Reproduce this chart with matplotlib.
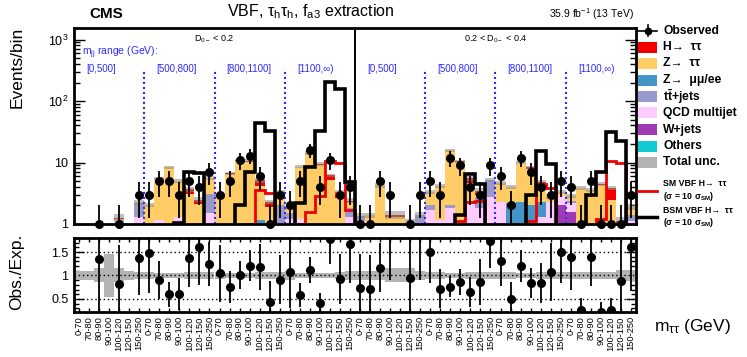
import numpy as np
import matplotlib
matplotlib.use('Agg')
import matplotlib.pyplot as plt
from matplotlib.patches import Rectangle
from matplotlib.lines import Line2D
from matplotlib.transforms import blended_transform_factory
from matplotlib.ticker import FixedLocator, FixedFormatter, MultipleLocator, NullFormatter, LogLocator

plt.rcParams['font.family'] = ['Liberation Sans', 'DejaVu Sans']
plt.rcParams['mathtext.fontset'] = 'custom'
plt.rcParams['mathtext.rm'] = 'Liberation Sans'
plt.rcParams['mathtext.it'] = 'Liberation Sans:italic'
plt.rcParams['mathtext.bf'] = 'Liberation Sans:bold'
plt.rcParams['mathtext.default'] = 'regular'

# ---------------- data ----------------
mtt_bins = ["0-70", "70-80", "80-90", "90-100", "100-120", "120-150", "150-250"]
mjj_ranges = ["[0,500]", "[500,800]", "[800,1100]", "[1100,\u221e)"]
d0_labels = ["D$_{0-}$ < 0.2", "0.2 < D$_{0-}$ < 0.4"]
tick_labels = mtt_bins * 8

observed = [0, 0, 1, 0, 1, 0, 3, 3, 5, 5, 3, 5, 4, 7,
            3, 5, 11, 13, 6, 1, 3, 2, 5, 16, 4, 11, 3, 4,
            1, 1, 5, 3, 0, 1, 3, 5, 3, 12, 9, 4, 3, 9,
            6, 2, 12, 7, 4, 3, 5, 4, 1, 5, 1, 1, 1, 3]

nan = float('nan')
ratio = [nan, nan, 1.35, nan, 0.82, nan, 1.37, 1.48, 0.91, 0.60, 0.60, 1.37, 1.61, 1.24,
         1.05, 0.75, 1.01, 1.21, 1.18, 0.44, 0.91, 1.07, 0.58, 1.12, 0.42, 1.78, 0.92, 1.67,
         0.73, 0.72, 1.17, 2.15, nan, 0.95, 2.15, 1.50, 0.72, 0.76, 0.86, 0.64, 0.86, 1.74,
         1.31, 0.50, 1.20, 0.84, 0.84, 1.07, 1.50, 1.40, 0.26, 1.40, 0.22, 0.26, 0.88, 1.60]

others = [0.02] * 44 + [0.05, 0.05] + [0.02] * 10
wjets = [0] * 48 + [1.98, 1.56] + [0] * 6
qcd = [0.10, 0.10, 0.20, 0.20, 1.08, 0.30, 1.28, 0.28, 1.13, 0.48, 1.28, 0.28, 0.98, 1.48,
       0.28, 0.28, 0.38, 0.28, 0.10, 0.28, 1.03, 1.18, 1.18, 0.28, 0.28, 0.28, 0.28, 1.28,
       1.08, 1.08, 0.28, 0.28, 0.28, 0.28, 0.58, 1.67, 1.13, 1.78, 0.98, 2.28, 1.78, 2.76,
       2.28, 0.28, 0.00, 0.00, 1.28, 2.28, 0.85, 0.60, 0.28, 0.28, 0.28, 0.18, 0.08, 1.08]
ttbar = [0, 0, 0.10, 0, 0, 0, 0.90, 0, 0, 0, 0, 0.20, 0.05, 1.60,
         0.20, 0, 0, 0, 0, 0, 0.95, 0.30, 0, 0, 0, 0, 0, 0.50,
         0.27, 0, 0, 0, 0, 0.75, 0.80, 0.35, 0, 0.20, 0, 0, 0.80, 2.40,
         0, 0, 0, 0, 0, 0, 0, 0.20, 0.20, 0, 0, 0, 0, 0.30]
zll = [0] * 18 + [1.05] + [0] * 20 + [0.10] + [0] * 3 + [1.90, 2.25, 1.95, 1.00] + [0] * 9
ztt = [0.20, 0.20, 0.40, 0.30, 0.10, 0.30, 0.05, 1.70, 4.35, 7.80, 3.65, 2.55, 1.10, 2.50,
       2.40, 6.30, 10.3, 10.0, 3.05, 1.60, 1.30, 0.37, 7.30, 13.8, 8.80, 4.90, 2.30, 0.50,
       0.00, 0.29, 4.00, 1.00, 1.00, 0.00, 0.00, 1.29, 3.05, 13.8, 9.30, 2.20, 0.40, 0.00,
       2.30, 1.80, 7.60, 5.80, 1.60, 0.50, 0.48, 0.48, 3.35, 3.27, 4.00, 2.25, 0.80, 0.50]
htt = [0, 0, 0.04, 0, 0.05, 0, 0, 0.02, 0.05, 0.05, 0.05, 0.60, 0.35, 0.05,
       0.02, 0.10, 0.20, 0.40, 0.90, 0.37, 0.02, 0, 0.10, 0.20, 0.40, 1.00, 0.70, 0.10,
       0, 0, 0, 0.10, 0.10, 0, 0, 0, 0, 0, 0.20, 0.90, 0.50, 0,
       0, 0, 0.10, 0.50, 0.90, 0, 0, 0, 0, 0, 0.20, 1.40, 0.24, 0]
total_unc = [0.10, 0.10, 0.15, 0.45, 0.15, 0.10, 0.08, 0.08, 0.06, 0.06, 0.06, 0.08, 0.08, 0.08,
             0.08, 0.06, 0.06, 0.06, 0.08, 0.08, 0.08, 0.10, 0.06, 0.06, 0.06, 0.06, 0.08, 0.10,
             0.10, 0.10, 0.10, 0.15, 0.15, 0.15, 0.10, 0.08, 0.08, 0.06, 0.06, 0.08, 0.08, 0.08,
             0.08, 0.08, 0.06, 0.06, 0.08, 0.08, 0.08, 0.08, 0.08, 0.08, 0.08, 0.08, 0.12, 0.12]
sm_vbf = [0.3, 0.3, 0.3, 0.3, 0.3, 0.3, 0.3, 0.3, 0.3, 0.3, 0.9, 0.9, 0.9, 0.3,
          0.3, 0.3, 0.5, 1.0, 3.57, 3.2, 0.3, 0.3, 1.0, 1.55, 2.9, 10.7, 9.9, 1.7,
          0.3, 0.3, 0.3, 0.3, 0.3, 0.3, 0.3, 0.3, 0.3, 0.5, 1.1, 2.3, 2.4, 0.3,
          0.3, 0.3, 0.5, 1.1, 4.5, 3.8, 0.3, 0.3, 0.3, 0.9, 1.2, 10.7, 9.9, 0.3]
bsm_vbf = [0.3, 0.3, 0.3, 0.3, 0.3, 0.3, 0.3, 0.3, 0.3, 0.3, 1.05, 7.0, 6.8, 0.3,
           0.3, 0.3, 2.0, 7.1, 43.5, 33.0, 0.3, 0.3, 2.17, 8.5, 32.0, 206.0, 155.0, 4.8,
           0.3, 0.3, 0.3, 0.3, 0.3, 0.3, 0.3, 0.3, 0.3, 0.3, 1.4, 6.4, 4.4, 0.3,
           0.3, 0.3, 0.3, 3.0, 15.3, 9.6, 0.3, 0.3, 0.3, 3.0, 7.0, 31.8, 22.8, 0.3]

components = [
    ("Others", others, '#12cad3'),
    ("W+jets", wjets, '#a03ab4'),
    ("QCD multijet", qcd, '#ffccff'),
    ("t$\\bar{t}$+jets", ttbar, '#9999cc'),
    ("Z\u2192  \u03bc\u03bc/ee", zll, '#4496c8'),
    ("Z\u2192  \u03c4\u03c4", ztt, '#ffcc66'),
    ("H\u2192  \u03c4\u03c4", htt, '#f20000'),
]

# ---------------- figure ----------------
W, H = 747, 357
fig = plt.figure(figsize=(W / 100, H / 100), dpi=100)


def fx(x):
    return x / W


def fy(y):
    return 1 - y / H


ax = fig.add_axes([fx(74), fy(224), fx(562), 196 / H])
ax2 = fig.add_axes([fx(74), fy(312), fx(562), 74 / H])

nb = len(observed)
edges = np.arange(nb + 1)
centers = edges[:-1] + 0.5
obs = np.array(observed, dtype=float)

# stack
cum = np.zeros(nb)
for name, vals, col in components:
    v = np.array(vals, dtype=float)
    ax.bar(edges[:-1], v, bottom=cum, width=1.0, align='edge', color=col,
           edgecolor='none', linewidth=0, zorder=2)
    cum = cum + v
total = cum
unc = np.array(total_unc)
ax.bar(edges[:-1], 2 * unc * total, bottom=total * (1 - unc), width=1.0, align='edge',
       color='#8c8c8c', alpha=0.55, edgecolor='none', zorder=3)

# signal lines
ax.stairs(sm_vbf, edges, baseline=None, color='#f00000', lw=2.0, zorder=4)
ax.stairs(bsm_vbf, edges, baseline=None, color='black', lw=2.6, zorder=5)

# observed
m = obs > 0
err = np.sqrt(obs)
lo = np.maximum(obs - err, 0.9)
hi = obs + err
ax.vlines(centers[m], lo[m], hi[m], color='black', lw=1.3, zorder=6)
ax.plot(centers[m], obs[m], 'o', color='black', ms=5.5, zorder=7, clip_on=False)

ax.set_yscale('log')
ax.set_xlim(0, nb)
ax.set_ylim(1, 1540)

# category separators
blue = '#2b2bff'
for b in [7, 14, 21, 35, 42, 49]:
    ax.vlines(b, 1, 320, colors=blue, linestyles=(0, (1, 1.4)), lw=1.5, zorder=8)
ax.axvline(28, color='black', lw=1.4, zorder=8)

bt = blended_transform_factory(ax.transData, ax.transAxes)
for half in range(2):
    for g, lab in enumerate(mjj_ranges):
        ax.text(half * 28 + g * 7 + 1.2, 0.79, lab, transform=bt, color=blue,
                fontsize=7, ha='left', va='center')
    ax.text(half * 28 + 14, 0.945, d0_labels[half], transform=bt, fontsize=6.5,
            ha='center', va='center')
ax.text(0.8, 0.872, "m$_{jj}$ range (GeV):", transform=bt, color=blue, fontsize=7.5,
        ha='left', va='center')

ax.yaxis.set_major_locator(FixedLocator([1, 10, 100, 1000]))
ax.yaxis.set_major_formatter(FixedFormatter(["1", "10", "10$^{2}$", "10$^{3}$"]))
ax.yaxis.set_minor_locator(LogLocator(base=10, subs=np.arange(2, 10), numticks=20))
ax.yaxis.set_minor_formatter(NullFormatter())
ax.tick_params(axis='y', which='major', direction='in', length=8, width=1, right=True,
               labelsize=9, pad=4)
ax.tick_params(axis='y', which='minor', direction='in', length=4, width=1, right=True)
ax.set_xticks([])
for sp in ax.spines.values():
    sp.set_linewidth(2)
    sp.set_zorder(10)

# ratio panel
r = np.array(ratio)
mr = ~np.isnan(r)
rerr = r / np.sqrt(np.where(obs > 0, obs, 1))
ax2.bar(edges[:-1], 2 * unc, bottom=1 - unc, width=1.0, align='edge',
        color='#b3b3b3', edgecolor='none', zorder=2)
for yv in [0.5, 1.0, 1.5]:
    ax2.axhline(yv, color='black', ls=(0, (1, 2)), lw=1.0, zorder=3)
ax2.vlines(centers[mr], (r - rerr)[mr], (r + rerr)[mr], color='black', lw=1.3, zorder=4)
ax2.plot(centers[mr], r[mr], 'o', color='black', ms=5.5, zorder=5)
ax2.set_xlim(0, nb)
ax2.set_ylim(0.22, 1.8)
ax2.yaxis.set_major_locator(FixedLocator([0.5, 1.0, 1.5]))
ax2.yaxis.set_major_formatter(FixedFormatter(["0.5", "1", "1.5"]))
ax2.yaxis.set_minor_locator(MultipleLocator(0.1))
ax2.tick_params(axis='y', which='major', direction='in', length=7, width=1, right=True,
                labelsize=9, pad=4)
ax2.tick_params(axis='y', which='minor', direction='in', length=3.5, width=1, right=True)
ax2.set_xticks(centers)
ax2.set_xticklabels(tick_labels, rotation=90, fontsize=6.7)
ax2.tick_params(axis='x', direction='in', length=3, width=1, top=True, pad=3)
for sp in ax2.spines.values():
    sp.set_linewidth(2)
    sp.set_zorder(10)

# axis titles and headers
fig.text(fx(17), fy(27), "Events/bin", rotation=90, ha='center', va='top', fontsize=12.5)
fig.text(fx(17), fy(272), "Obs./Exp.", rotation=90, ha='center', va='center', fontsize=12.5)
fig.text(fx(731), fy(326), "m$_{\u03c4\u03c4}$ (GeV)", ha='right', va='center', fontsize=12.5)
fig.text(fx(89), fy(14), "CMS", ha='left', va='center', fontsize=11, fontweight='bold')
fig.text(fx(311), fy(12), "VBF, \u03c4$_{h}$\u03c4$_{h}$, f$_{a3}$ extraction",
         ha='center', va='center', fontsize=11.5)
fig.text(fx(634), fy(14), "35.9 fb$^{-1}$ (13 TeV)", ha='right', va='center', fontsize=7.5)

# legend (drawn manually in figure coordinates)
leg_x0, leg_x1, leg_tx = 638, 657, 663
fig.add_artist(Line2D([fx(leg_x0), fx(leg_x1)], [fy(30.5), fy(30.5)], color='black', lw=1.2))
fig.add_artist(Line2D([fx(647.5), fx(647.5)], [fy(25), fy(36)], color='black', lw=1.2))
fig.add_artist(Line2D([fx(647.5)], [fy(30.5)], marker='o', color='black', ms=4.5))
fig.text(fx(leg_tx), fy(30.5), "Observed", ha='left', va='center', fontsize=8.7, fontweight='bold')

leg_entries = [components[6], components[5], components[4], components[3],
               components[2], components[1], components[0]]
leg_y = [47, 63.5, 80, 96.5, 113, 129.5, 146]
for (name, vals, col), yy in zip(leg_entries, leg_y):
    fig.add_artist(Rectangle((fx(leg_x0), fy(yy + 5.5)), fx(leg_x1 - leg_x0), 11 / H,
                             facecolor=col, edgecolor='none'))
    fig.text(fx(leg_tx), fy(yy), name, ha='left', va='center', fontsize=8.7, fontweight='bold')
fig.add_artist(Rectangle((fx(leg_x0), fy(162.5 + 5.5)), fx(leg_x1 - leg_x0), 11 / H,
                         facecolor='#b3b3b3', edgecolor='none'))
fig.text(fx(leg_tx), fy(162.5), "Total unc.", ha='left', va='center', fontsize=8.7,
         fontweight='bold')

fig.add_artist(Line2D([fx(leg_x0), fx(leg_x1)], [fy(191), fy(191)], color='#f00000', lw=2))
fig.text(fx(leg_tx), fy(184), "SM VBF H\u2192  \u03c4\u03c4", ha='left', va='center',
         fontsize=6.3, fontweight='bold')
fig.text(fx(leg_tx), fy(196), "(\u03c3 = 10 \u03c3$_{SM}$)", ha='left', va='center',
         fontsize=6.3, fontweight='bold')
fig.add_artist(Line2D([fx(leg_x0), fx(leg_x1)], [fy(217.5), fy(217.5)], color='black', lw=2.5))
fig.text(fx(leg_tx), fy(210.5), "BSM VBF H\u2192  \u03c4\u03c4", ha='left', va='center',
         fontsize=6.3, fontweight='bold')
fig.text(fx(leg_tx), fy(222.5), "(\u03c3 = 10 \u03c3$_{SM}$)", ha='left', va='center',
         fontsize=6.3, fontweight='bold')

fig.savefig("out.png", dpi=100)
